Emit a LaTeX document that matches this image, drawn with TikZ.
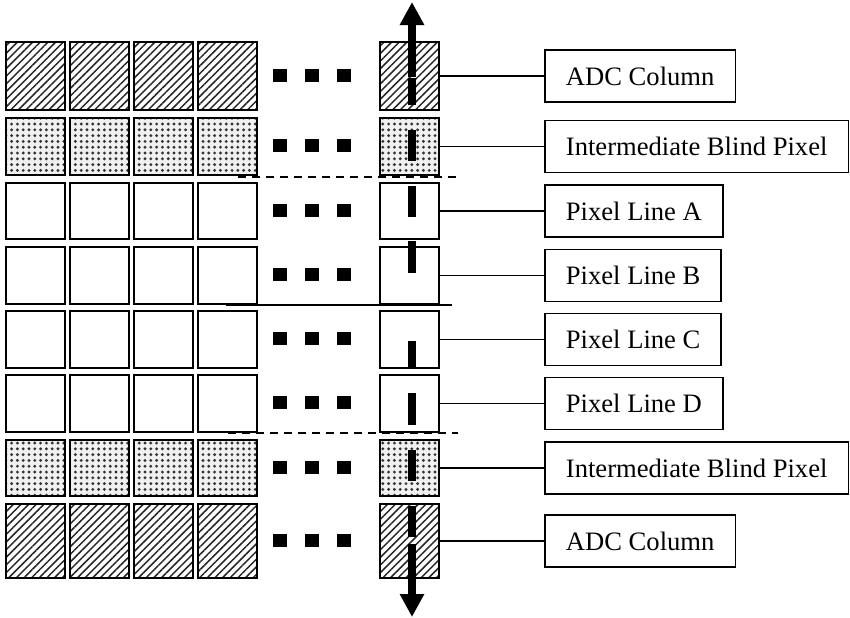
\documentclass[tikz,border=0pt]{standalone}
\usepackage{fontspec}
\setmainfont{Liberation Serif}
\usetikzlibrary{patterns.meta, positioning, arrows.meta}

\begin{document}
\begin{tikzpicture}[x=0.5pt, y=-0.5pt,
    cell/.style={draw, line width=1pt, inner sep=0pt, anchor=north west, minimum width=29.5pt},
    pix/.style={cell},
    adc/.style={cell, pattern={Lines[angle=45, distance=2.7pt, line width=0.75pt]}, pattern color=black!85},
    blind/.style={cell, preaction={fill=gray!12}, pattern={Dots[distance=2.9pt, radius=0.8pt]}, pattern color=black!80},
    bar/.style={line width=4pt},
    tip/.style={-{Triangle[width=11.5pt, length=11.5pt]}},
    namebox/.style={draw, line width=0.9pt, minimum height=26pt, inner xsep=10.5pt,
        font=\fontsize{13.3pt}{16pt}\selectfont},
    link/.style={line width=0.65pt},
    sepdash/.style={line width=0.6pt, dash pattern=on 4pt off 3pt}]
    \useasboundingbox (0,0) rectangle (850,617);
    \foreach \r/\top/\h/\kind in {1/41/68/adc, 2/117/57/blind, 3/182/56/pix, 4/246/57/pix,
                                  5/310/57/pix, 6/374/57/pix, 7/439/56/blind, 8/503/74/adc} {
        \foreach \c/\left in {1/5, 2/69, 3/133, 4/197, 5/379}
            \node[\kind, minimum height=\h*0.5pt] (c-\r-\c) at (\left,\top) {};
        \foreach \d in {273, 305, 337}
            \fill ({\d},{\top+\h/2-6.5}) rectangle ++(14,13);
    }
    \draw[bar] (412,105) -- (412,78);
    \draw[bar, tip] (412,77) -- (412,2);
    \foreach \a/\b in {130/161, 186/217, 241/273, 341/369, 393/425, 450/481, 506/537}
        \draw[bar] (412,\a) -- (412,\b);
    \draw[bar, tip] (412,544) -- (412,617);
    \draw[sepdash] (238,177) -- (456,177);
    \draw[line width=0.6pt] (226,305) -- (452,305);
    \draw[sepdash] (228,433) -- (458,433);
    \node[namebox, right=52pt of c-1-5] (adc-top) {ADC Column};
    \node[namebox, right=52pt of c-2-5] (blind-top) {Intermediate Blind Pixel};
    \node[namebox, right=52pt of c-3-5] (line-a) {Pixel Line A};
    \node[namebox, right=52pt of c-4-5] (line-b) {Pixel Line B};
    \node[namebox, right=52pt of c-5-5] (line-c) {Pixel Line C};
    \node[namebox, right=52pt of c-6-5] (line-d) {Pixel Line D};
    \node[namebox, right=52pt of c-7-5] (blind-bot) {Intermediate Blind Pixel};
    \node[namebox, right=52pt of c-8-5] (adc-bot) {ADC Column};
    \foreach \r/\n in {1/adc-top, 2/blind-top, 3/line-a, 4/line-b, 5/line-c, 6/line-d, 7/blind-bot, 8/adc-bot}
        \draw[link] (c-\r-5) -- (\n);
\end{tikzpicture}
\end{document}
